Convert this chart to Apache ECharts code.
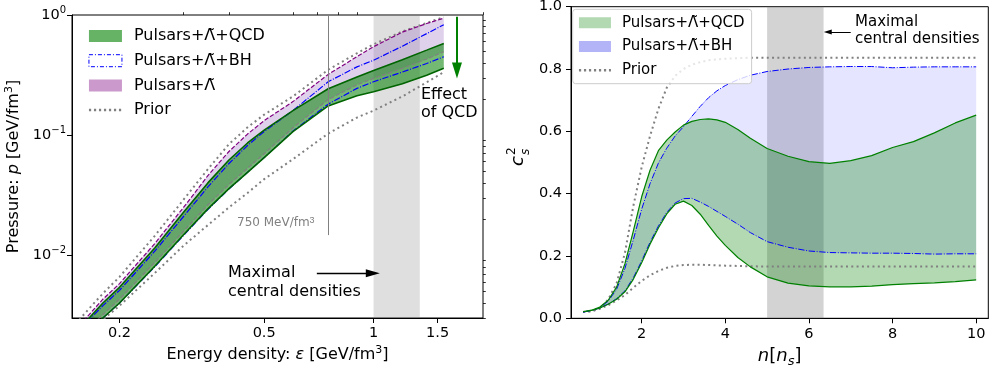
<!DOCTYPE html>
<html>
<head>
<meta charset="utf-8">
<script src="https://cdn.jsdelivr.net/npm/echarts@6/dist/echarts.min.js"></script>
<style>
  html, body { margin: 0; padding: 0; background: #fff; }
  #chart { width: 995px; height: 366px; }
</style>
</head>
<body>
<div id="chart"></div>
<script>
// ---- left panel: pressure vs energy density, GeV/fm^3 (log-log)
const eps        = [0.155, 0.165, 0.18, 0.2, 0.25, 0.3, 0.35, 0.4, 0.45, 0.5, 0.6, 0.75, 0.9, 1.0, 1.2, 1.4, 1.56];
const qcdUpper   = [0.0025, 0.0030, 0.0040, 0.0054, 0.0115, 0.0228, 0.040, 0.062, 0.086, 0.110, 0.160, 0.243, 0.305, 0.345, 0.425, 0.51, 0.58];
const qcdLower   = [0.0020, 0.0024, 0.0030, 0.0040, 0.0081, 0.0148, 0.0243, 0.0358, 0.049, 0.065, 0.107, 0.175, 0.213, 0.230, 0.268, 0.315, 0.36];
const lamUpper   = [0.0026, 0.0032, 0.0043, 0.0058, 0.0125, 0.025, 0.046, 0.073, 0.102, 0.132, 0.190, 0.32, 0.45, 0.545, 0.72, 0.85, 0.94];
const lamLower   = [0.0021, 0.0025, 0.0032, 0.0043, 0.0087, 0.0158, 0.0262, 0.0388, 0.053, 0.070, 0.115, 0.198, 0.262, 0.297, 0.36, 0.43, 0.495];
const bhUpper    = [0.0024, 0.0029, 0.0038, 0.0051, 0.0108, 0.021, 0.037, 0.058, 0.082, 0.107, 0.160, 0.278, 0.37, 0.42, 0.55, 0.70, 0.83];
const bhLower    = [0.0020, 0.0024, 0.0030, 0.0040, 0.0080, 0.0146, 0.0240, 0.0356, 0.049, 0.065, 0.108, 0.181, 0.245, 0.278, 0.335, 0.395, 0.449];
const priorUpper = [0.0029, 0.0036, 0.0048, 0.0066, 0.0145, 0.029, 0.052, 0.084, 0.116, 0.148, 0.210, 0.35, 0.48, 0.57, 0.73, 0.86, 0.96];
const priorLower = [0.0020, 0.0024, 0.0029, 0.0038, 0.0071, 0.0120, 0.0178, 0.025, 0.033, 0.043, 0.063, 0.103, 0.140, 0.160, 0.210, 0.275, 0.335];
const epsTicks   = [0.2, 0.5, 1, 1.5];
const epsMinor   = [0.3, 0.4, 0.6, 0.7, 0.8, 0.9, 2];
const pTicks     = [0.01, 0.1, 1];
const pMinor     = [0.003, 0.004, 0.005, 0.006, 0.007, 0.008, 0.009, 0.02, 0.03, 0.04, 0.05, 0.06, 0.07, 0.08, 0.09, 0.2, 0.3, 0.4, 0.5, 0.6, 0.7, 0.8, 0.9];
const epsCentral = [1.0, 1.34];

// ---- right panel: speed of sound squared vs density n/n_s
const dens       = [0.6, 0.8, 1.0, 1.2, 1.4, 1.6, 1.8, 2.0, 2.2, 2.4, 2.6, 2.8, 3.0, 3.2, 3.4, 3.6, 3.8, 4.0, 4.3, 4.6, 5.0, 5.5, 6.0, 6.5, 7.0, 7.5, 8.0, 8.5, 9.0, 9.5, 10.0];
const cQcdUpper  = [0.021, 0.026, 0.036, 0.058, 0.100, 0.175, 0.280, 0.390, 0.475, 0.538, 0.572, 0.598, 0.620, 0.632, 0.638, 0.640, 0.637, 0.629, 0.606, 0.578, 0.545, 0.520, 0.503, 0.497, 0.506, 0.522, 0.548, 0.567, 0.595, 0.627, 0.652];
const cQcdLower  = [0.021, 0.025, 0.033, 0.045, 0.061, 0.085, 0.125, 0.178, 0.238, 0.290, 0.335, 0.366, 0.376, 0.362, 0.334, 0.298, 0.264, 0.234, 0.195, 0.165, 0.133, 0.113, 0.104, 0.101, 0.101, 0.103, 0.108, 0.111, 0.114, 0.118, 0.123];
const cBhUpper   = [0.020, 0.025, 0.034, 0.055, 0.093, 0.160, 0.252, 0.350, 0.432, 0.498, 0.546, 0.585, 0.615, 0.648, 0.680, 0.708, 0.730, 0.747, 0.766, 0.780, 0.792, 0.800, 0.805, 0.807, 0.808, 0.808, 0.804, 0.806, 0.807, 0.807, 0.807];
const cBhLower   = [0.021, 0.025, 0.033, 0.046, 0.063, 0.088, 0.130, 0.184, 0.244, 0.296, 0.340, 0.370, 0.384, 0.385, 0.373, 0.359, 0.343, 0.327, 0.302, 0.275, 0.246, 0.228, 0.216, 0.211, 0.210, 0.209, 0.209, 0.208, 0.206, 0.207, 0.207];
const cPriorUp   = [0.020, 0.023, 0.031, 0.060, 0.112, 0.210, 0.360, 0.485, 0.585, 0.672, 0.740, 0.778, 0.800, 0.814, 0.822, 0.828, 0.831, 0.833, 0.835, 0.836, 0.836, 0.836, 0.836, 0.836, 0.836, 0.836, 0.836, 0.836, 0.836, 0.836, 0.836];
const cPriorLow  = [0.020, 0.023, 0.031, 0.042, 0.057, 0.075, 0.098, 0.120, 0.138, 0.152, 0.162, 0.168, 0.171, 0.172, 0.172, 0.171, 0.170, 0.169, 0.168, 0.167, 0.166, 0.166, 0.166, 0.166, 0.166, 0.166, 0.166, 0.166, 0.166, 0.166, 0.166];
const densTicks  = [2, 4, 6, 8, 10];
const densCentral = [5.0, 6.35];

const T = 'Λ\u0303';
const nQCD = 'Pulsars+' + T + '+QCD';
const nBH = 'Pulsars+' + T + '+BH';
const nLam = 'Pulsars+' + T;
const nPrior = 'Prior';

const FONT = 'DejaVu Sans';
const dashDot = [6.4, 1.6, 1, 1.6];
const dotted = [2, 3.3];
const dashed = [4.4, 1.9];

function pairs(xs, ys) {
  return xs.map((x, i) => [x, ys[i]]);
}

// filled area between two curves, drawn through the axes with api.coord
function band(name, xs, lo, hi, color, ax, z) {
  return {
    name: name, type: 'custom', xAxisIndex: ax, yAxisIndex: ax, z: z,
    clip: true, silent: true,
    itemStyle: { color: color },
    data: [[xs[0], lo[0]]],
    renderItem: function (params, api) {
      const pts = [];
      for (let i = 0; i < xs.length; i++) pts.push(api.coord([xs[i], hi[i]]));
      for (let i = xs.length - 1; i >= 0; i--) pts.push(api.coord([xs[i], lo[i]]));
      return { type: 'polygon', shape: { points: pts }, style: { fill: color } };
    }
  };
}

function curve(name, xs, ys, color, width, type, ax, z) {
  return {
    name: name, type: 'line', xAxisIndex: ax, yAxisIndex: ax, z: z,
    data: pairs(xs, ys), symbol: 'none', silent: true,
    lineStyle: { color: color, width: width, type: type, cap: 'butt' }
  };
}

function supLabel(v) {
  const k = Math.round(Math.log10(v));
  return '{b|10}{s|' + (k < 0 ? '\u2212' + (-k) : k) + '}';
}

const black = '#000';
const tickFont = 14.5;
const supStyle = { fontSize: 11, color: black, lineHeight: 11, verticalAlign: 'top' };

const option = {
  animation: false,
  textStyle: { fontFamily: FONT },
  grid: [
    { left: 72, top: 15, width: 411, height: 303, show: true, borderColor: black, borderWidth: 1, backgroundColor: 'transparent', outerBoundsMode: 'none' },
    { left: 571, top: 6.7, width: 417.3, height: 311.6, show: true, borderColor: black, borderWidth: 1, backgroundColor: 'transparent', outerBoundsMode: 'none' }
  ],
  xAxis: [
    {
      type: 'log', logBase: 10, gridIndex: 0, min: 0.148, max: 2.0,
      axisLine: { show: true, lineStyle: { color: black, width: 1 } },
      axisTick: { show: true, length: 5, lineStyle: { color: black, width: 1 }, customValues: epsTicks },
      axisLabel: { show: true, margin: 8, fontSize: tickFont, color: black, customValues: epsTicks,
        formatter: v => String(+(+v).toFixed(2)) },
      splitLine: { show: false }, minorTick: { show: false },
      name: 'Energy density: {i|ε} [GeV/fm{sup|3}]', nameLocation: 'middle', nameGap: 27, nameMoveOverlap: false,
      nameTextStyle: { fontSize: 16, color: black, lineHeight: 20,
        rich: { i: { fontSize: 16, fontStyle: 'italic', color: black, lineHeight: 20 }, sup: supStyle } }
    },
    {
      type: 'log', logBase: 10, gridIndex: 0, min: 0.148, max: 2.0,
      axisLine: { show: false },
      axisTick: { show: true, length: 2.8, lineStyle: { color: black, width: 0.8 }, customValues: epsMinor },
      axisLabel: { show: false }, splitLine: { show: false }
    },
    {
      type: 'value', gridIndex: 1, min: 0.31, max: 10.29,
      axisLine: { show: true, onZero: false, lineStyle: { color: black, width: 1 } },
      axisTick: { show: true, length: 5, lineStyle: { color: black, width: 1 }, customValues: densTicks },
      axisLabel: { show: true, margin: 8, fontSize: tickFont, color: black, customValues: densTicks },
      splitLine: { show: false },
      name: '{i|n}{r|[}{i|n}{sub|s}{r|]}', nameLocation: 'middle', nameGap: 26, nameMoveOverlap: false,
      nameTextStyle: { rich: {
        i: { fontSize: 18, fontStyle: 'italic', color: black, lineHeight: 24 },
        r: { fontSize: 18, color: black, lineHeight: 24 },
        sub: { fontSize: 13, fontStyle: 'italic', color: black, lineHeight: 14, verticalAlign: 'bottom' }
      } }
    }
  ],
  yAxis: [
    {
      type: 'log', logBase: 10, gridIndex: 0, min: 0.003, max: 1,
      axisLine: { show: true, lineStyle: { color: black, width: 1 } },
      axisTick: { show: true, length: 5, lineStyle: { color: black, width: 1 }, customValues: pTicks },
      axisLabel: { show: true, margin: 6, color: black, customValues: pTicks, formatter: supLabel,
        rich: {
          b: { fontSize: tickFont, color: black, lineHeight: 20 },
          s: { fontSize: 10, color: black, lineHeight: 10, verticalAlign: 'top' }
        } },
      splitLine: { show: false }, minorTick: { show: false },
      name: 'Pressure: {i|p} [GeV/fm{sup|3}]', nameLocation: 'middle', nameGap: 48, nameRotate: 90, nameMoveOverlap: false,
      nameTextStyle: { fontSize: 16, color: black, lineHeight: 20,
        rich: { i: { fontSize: 16, fontStyle: 'italic', color: black, lineHeight: 20 }, sup: supStyle } }
    },
    {
      type: 'log', logBase: 10, gridIndex: 0, min: 0.003, max: 1,
      axisLine: { show: false },
      axisTick: { show: true, length: 2.8, lineStyle: { color: black, width: 0.8 }, customValues: pMinor },
      axisLabel: { show: false }, splitLine: { show: false }
    },
    {
      type: 'value', gridIndex: 1, min: 0, max: 1, interval: 0.2,
      axisLine: { show: true, onZero: false, lineStyle: { color: black, width: 1 } },
      axisTick: { show: true, length: 5, lineStyle: { color: black, width: 1 } },
      axisLabel: { show: true, margin: 9, fontSize: tickFont, color: black, formatter: v => v.toFixed(1) },
      splitLine: { show: false }
    }
  ],
  legend: [
    {
      left: 82.7, top: 23, orient: 'vertical', padding: 5,
      itemWidth: 33, itemHeight: 12, itemGap: 8.7, selectedMode: false,
      textStyle: { fontSize: 16, color: black, lineHeight: 16, padding: [0, 0, 0, 7] },
      data: [
        { name: nQCD, icon: 'rect', itemStyle: { color: '#66b366', borderWidth: 0 } },
        { name: nBH, icon: 'rect', itemStyle: { color: 'rgba(0,0,0,0)', borderColor: '#0000ff', borderWidth: 1, borderType: [4, 2, 1, 2] } },
        { name: nLam, icon: 'rect', itemStyle: { color: '#cc99cc', borderWidth: 0 } },
        { name: nPrior, itemStyle: { color: 'rgba(0,0,0,0)', borderWidth: 0 }, lineStyle: { color: '#808080', width: 2.5, type: [2.2, 2.8] } }
      ]
    },
    {
      left: 572.7, top: 9.3, orient: 'vertical', padding: [6, 7, 6, 5],
      itemWidth: 32, itemHeight: 11, itemGap: 8.7, selectedMode: false,
      backgroundColor: 'rgba(255,255,255,0.8)', borderColor: '#cccccc', borderWidth: 1, borderRadius: 3,
      textStyle: { fontSize: 15, color: black, lineHeight: 15, padding: [0, 0, 0, 6] },
      data: [
        { name: nQCD, icon: 'rect', itemStyle: { color: '#b3d9b3', borderWidth: 0 } },
        { name: nBH, icon: 'rect', itemStyle: { color: '#b3b3f8', borderWidth: 0 } },
        { name: nPrior, itemStyle: { color: 'rgba(0,0,0,0)', borderWidth: 0 }, lineStyle: { color: '#808080', width: 2.5, type: [2.2, 2.8] } }
      ]
    }
  ],
  graphic: [
    { type: 'text', x: 228, y: 273, style: { text: 'Maximal', font: '16px "DejaVu Sans"', fill: black, verticalAlign: 'middle' } },
    { type: 'text', x: 228, y: 292, style: { text: 'central densities', font: '16px "DejaVu Sans"', fill: black, verticalAlign: 'middle' } },
    { type: 'text', x: 421, y: 95, style: { text: 'Effect', font: '16px "DejaVu Sans"', fill: black, verticalAlign: 'middle' } },
    { type: 'text', x: 421, y: 113, style: { text: 'of QCD', font: '16px "DejaVu Sans"', fill: black, verticalAlign: 'middle' } },
    { type: 'text', x: 237, y: 223, style: { text: '750 MeV/fm{s|3}', font: '12px "DejaVu Sans"', fill: '#808080', verticalAlign: 'middle',
        lineHeight: 14, rich: { s: { fontSize: 9, fill: '#808080', lineHeight: 9, verticalAlign: 'top' } } } },
    { type: 'text', x: 855, y: 22, style: { text: 'Maximal', font: '15px "DejaVu Sans"', fill: black, verticalAlign: 'middle' } },
    { type: 'text', x: 855, y: 39, style: { text: 'central densities', font: '15px "DejaVu Sans"', fill: black, verticalAlign: 'middle' } },
    {
      type: 'group', x: 518, y: 156, rotation: Math.PI / 2,
      children: [
        { type: 'text', x: -10, y: 0, style: { text: 'c', font: 'italic 18px "DejaVu Sans"', fill: black, verticalAlign: 'middle' } },
        { type: 'text', x: 1, y: -6, style: { text: '2', font: '12px "DejaVu Sans"', fill: black, verticalAlign: 'middle' } },
        { type: 'text', x: 1, y: 8, style: { text: 's', font: 'italic 12px "DejaVu Sans"', fill: black, verticalAlign: 'middle' } }
      ]
    }
  ],
  series: [
    // left panel
    {
      type: 'line', xAxisIndex: 0, yAxisIndex: 0, data: [], z: 0, silent: true,
      markArea: { silent: true, itemStyle: { color: 'rgba(128,128,128,0.25)' },
        data: [[{ xAxis: epsCentral[0] }, { xAxis: epsCentral[1] }]] },
      markLine: { silent: true, symbol: 'none', label: { show: false },
        data: [
          [{ coord: [0.75, 1], lineStyle: { color: '#808080', width: 1, type: 'solid' } }, { coord: [0.75, 0.0147] }],
          [{ coord: [0.698, 0.00708], symbol: 'none', lineStyle: { color: black, width: 1.3, type: 'solid' } },
           { coord: [0.995, 0.00708], symbol: 'triangle', symbolSize: [8, 14] }],
          [{ coord: [1.696, 0.968], symbol: 'none', lineStyle: { color: '#008000', width: 2, type: 'solid' } },
           { coord: [1.696, 0.345], symbol: 'triangle', symbolSize: [10, 16] }]
        ] }
    },
    band(nLam, eps, lamLower, lamUpper, 'rgba(148,103,189,0.3)', 0, 1),
    band(nQCD, eps, qcdLower, qcdUpper, 'rgba(0,128,0,0.55)', 0, 1.5),
    curve(nPrior, eps, priorUpper, '#808080', 2, dotted, 0, 3),
    curve(nPrior, eps, priorLower, '#808080', 2, dotted, 0, 3),
    curve(nLam, eps, lamUpper, '#800080', 1.2, dashed, 0, 3),
    curve(nLam, eps, lamLower, '#808080', 1.2, dashed, 0, 3),
    curve(nBH, eps, bhUpper, '#0000ff', 1.2, dashDot, 0, 3),
    curve(nBH, eps, bhLower, '#0000ff', 1.2, dashDot, 0, 3),
    curve(nQCD, eps, qcdUpper, '#006400', 1.6, 'solid', 0, 3),
    curve(nQCD, eps, qcdLower, '#006400', 1.6, 'solid', 0, 3),

    // right panel
    band(nBH, dens, cBhLower, cBhUpper, 'rgba(0,0,255,0.1)', 2, 1),
    band(nQCD, dens, cQcdLower, cQcdUpper, 'rgba(0,128,0,0.3)', 2, 1.5),
    curve(nPrior, dens, cPriorUp, '#808080', 2, dotted, 2, 3),
    curve(nPrior, dens, cPriorLow, '#808080', 2, dotted, 2, 3),
    curve(nBH, dens, cBhUpper, '#0000ff', 1, dashDot, 2, 3),
    curve(nBH, dens, cBhLower, '#0000ff', 1, dashDot, 2, 3),
    curve(nQCD, dens, cQcdUpper, '#008000', 1.2, 'solid', 2, 3),
    curve(nQCD, dens, cQcdLower, '#008000', 1.2, 'solid', 2, 3),
    {
      type: 'line', xAxisIndex: 2, yAxisIndex: 2, data: [], z: 5, silent: true,
      markArea: { silent: true, itemStyle: { color: 'rgba(128,128,128,0.35)' },
        data: [[{ xAxis: densCentral[0] }, { xAxis: densCentral[1] }]] },
      markLine: { silent: true, symbol: 'none', label: { show: false },
        data: [
          [{ coord: [7.0, 0.919], symbol: 'none', lineStyle: { color: black, width: 1, type: 'solid' } },
           { coord: [6.45, 0.919], symbol: 'triangle', symbolSize: [5, 8] }]
        ] }
    }
  ]
};

const chart = echarts.init(document.getElementById('chart'), null, { renderer: 'canvas' });
chart.setOption(option);
</script>
</body>
</html>
